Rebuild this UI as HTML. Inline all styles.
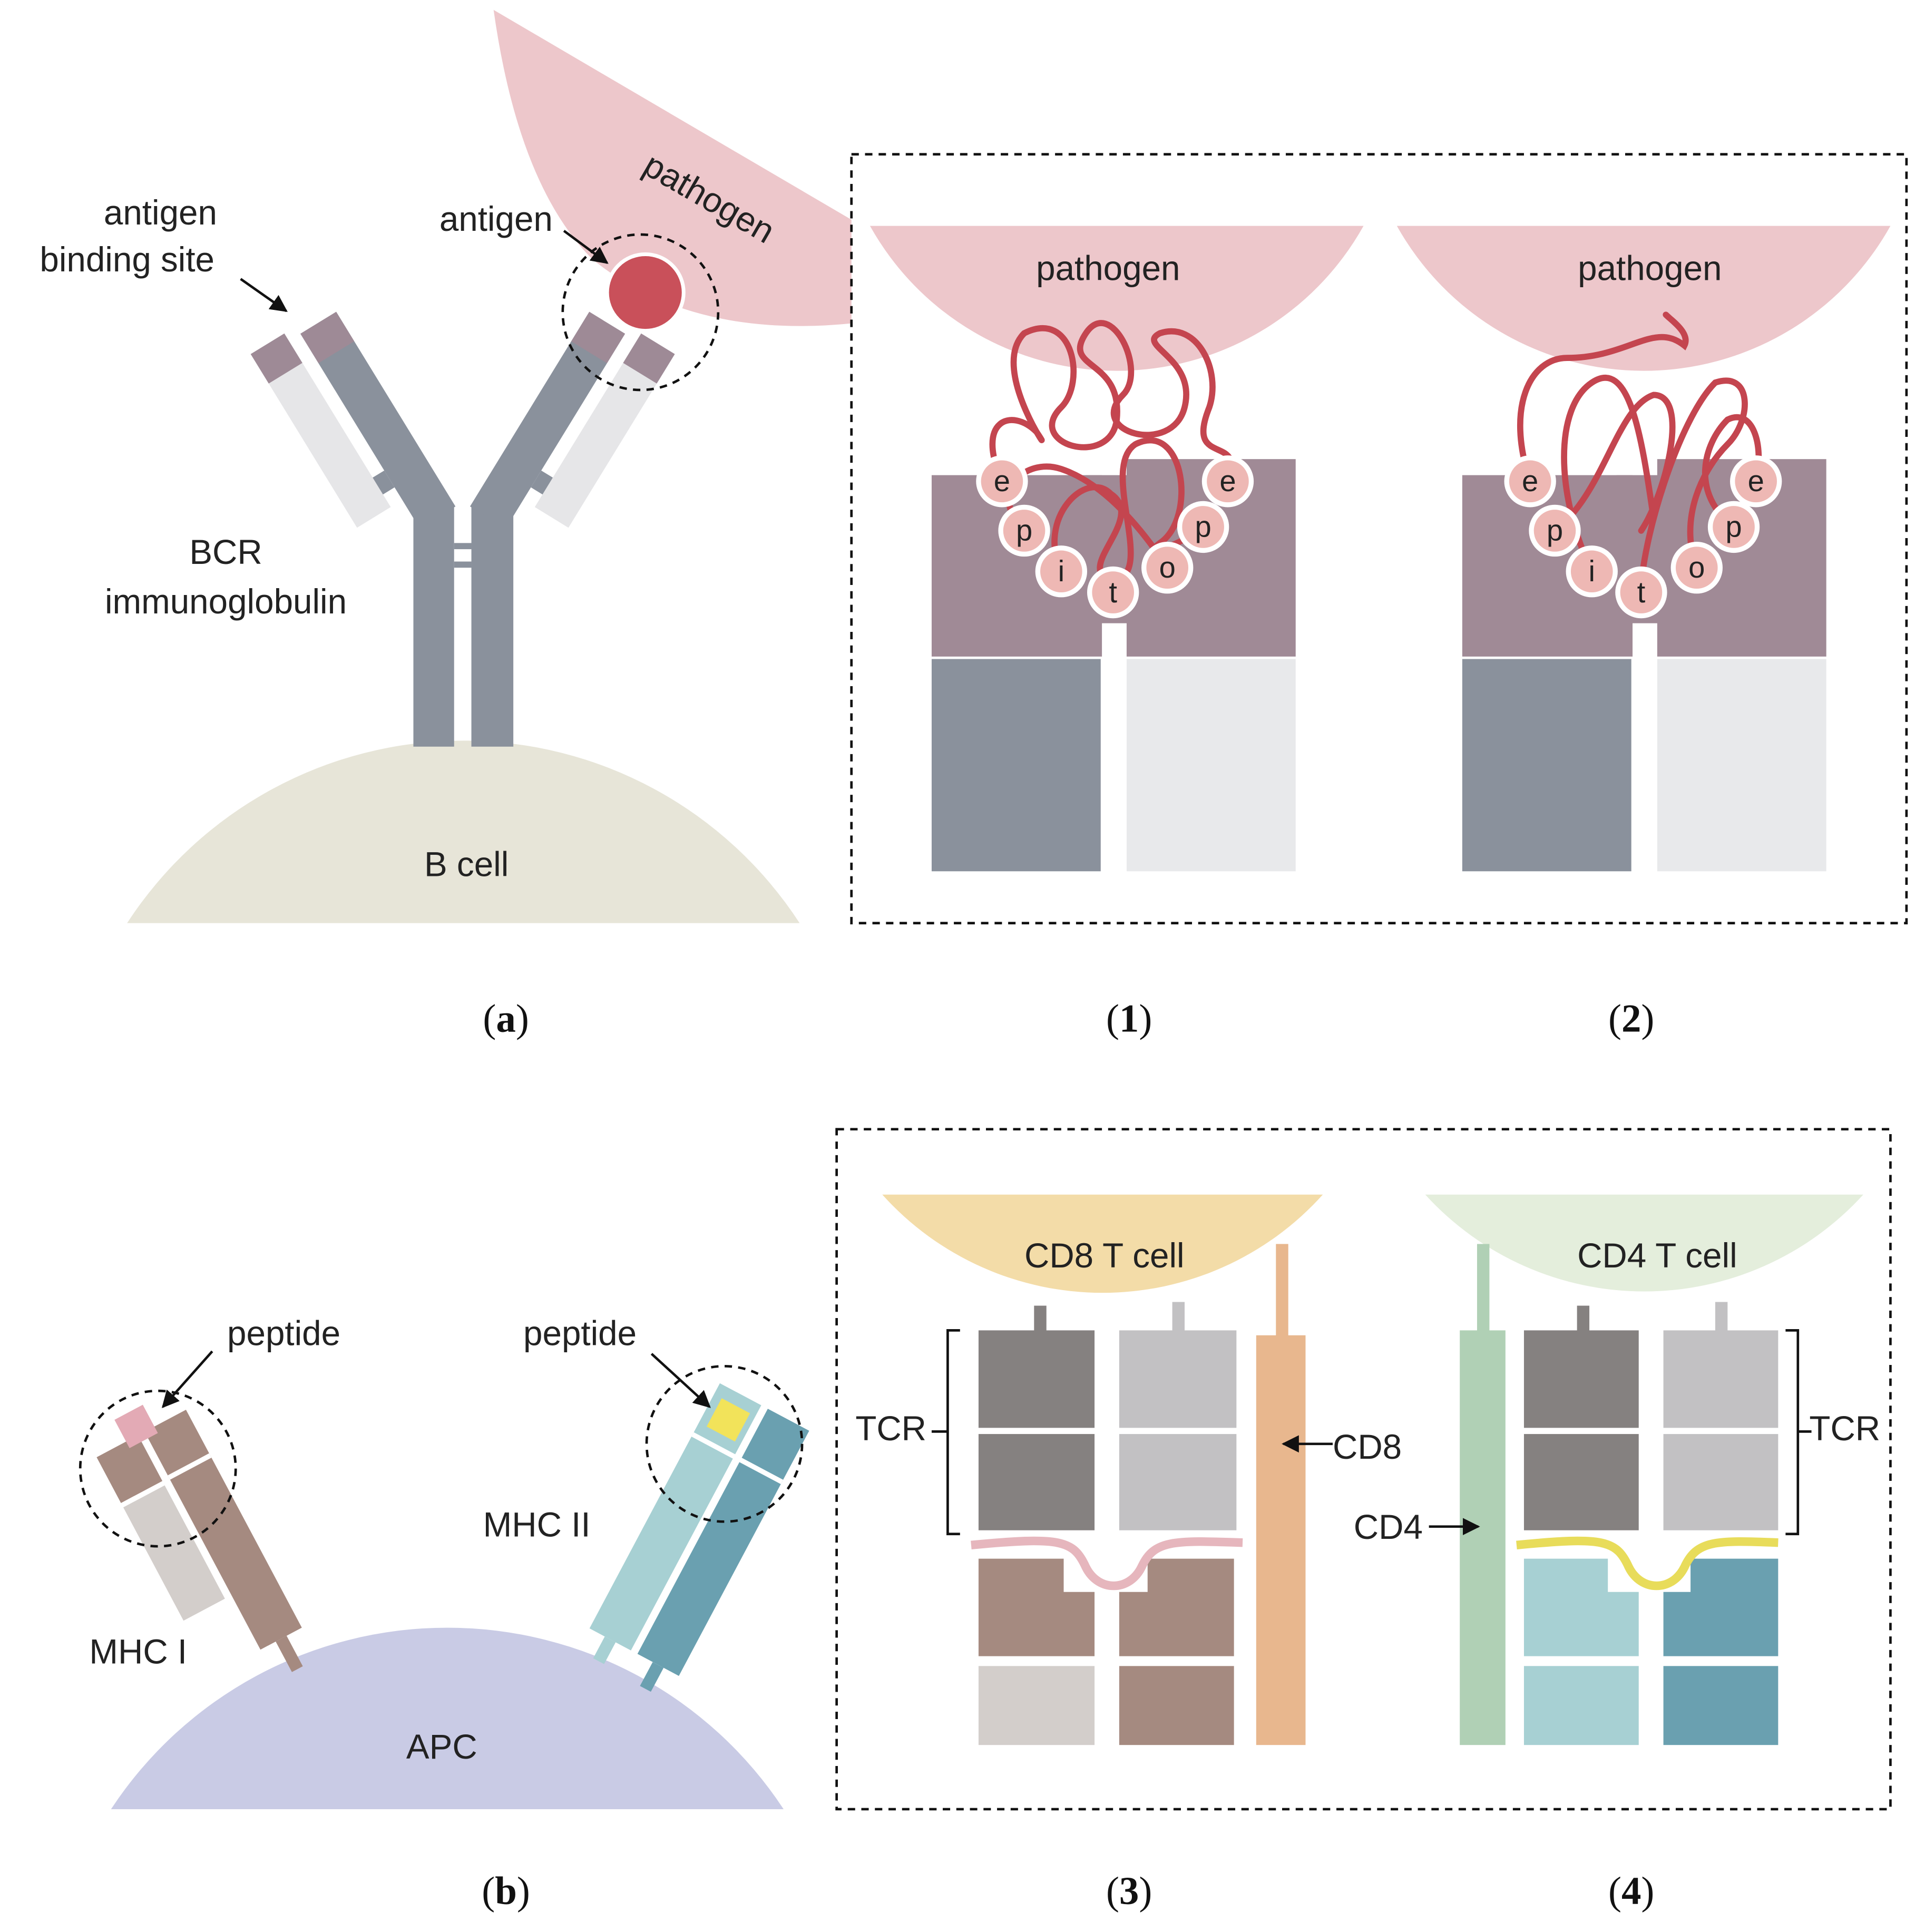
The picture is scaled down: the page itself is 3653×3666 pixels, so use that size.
<!DOCTYPE html>
<html><head><meta charset="utf-8"><style>html,body{margin:0;padding:0;background:#fff}svg{display:block}</style></head><body>
<svg width="3653" height="3666" viewBox="0 0 1560 1565.5" xmlns="http://www.w3.org/2000/svg" font-family="Liberation Sans, sans-serif">
<defs><marker id="ah" viewBox="0 0 10 10" refX="9" refY="5" markerWidth="7" markerHeight="7" orient="auto"><path d="M0 0 L10 5 L0 10 Z" fill="#111"/></marker></defs>
<rect width="1560" height="1566" fill="#fff"/>
<!-- Panel a -->
<path d="M400 8 L690 178 L690 262 Q560 275 480 210 Q420 150 400 8 Z" fill="#edc7cb"/>
<path d="M103 748 A325 325 0 0 1 648 748 Z" fill="#e7e5d8"/>
<rect x="335" y="410" width="33" height="195" fill="#8a919c"/>
<rect x="382" y="410" width="34" height="195" fill="#8a919c"/>
<rect x="368" y="440" width="14" height="5" fill="#8a919c"/><rect x="368" y="455" width="14" height="5" fill="#8a919c"/>
<g transform="rotate(-31.5 352 415)">
<rect x="335" y="235" width="34" height="185" fill="#8a919c"/>
<rect x="335" y="235" width="34" height="28" fill="#9e8a96"/>
<rect x="292" y="228" width="32" height="165" fill="#e6e6e8"/>
<rect x="292" y="228" width="32" height="28" fill="#9e8a96"/>
<rect x="324" y="365" width="11" height="16" fill="#8a919c"/>
</g>
<g transform="rotate(31.5 398 415)">
<rect x="381" y="235" width="34" height="185" fill="#8a919c"/>
<rect x="381" y="235" width="34" height="28" fill="#9e8a96"/>
<rect x="426" y="228" width="32" height="165" fill="#e6e6e8"/>
<rect x="426" y="228" width="32" height="28" fill="#9e8a96"/>
<rect x="415" y="365" width="11" height="16" fill="#8a919c"/>
</g>
<circle cx="523" cy="237" r="31" fill="#c9505a" stroke="#fff" stroke-width="3"/>
<circle cx="519" cy="253" r="63" fill="none" stroke="#111" stroke-width="2" stroke-dasharray="6 5"/>
<g font-size="28" fill="#222" text-anchor="middle">
<text x="130" y="182">antigen</text><text x="103" y="220">binding site</text>
<text x="402" y="187">antigen</text>
<text x="183" y="457">BCR</text><text x="183" y="497">immunoglobulin</text>
<text x="378" y="710">B cell</text>
<text x="575" y="170" transform="rotate(30 575 160)">pathogen</text>
</g>
<line x1="195" y1="226" x2="232" y2="252" stroke="#111" stroke-width="2" marker-end="url(#ah)"/>
<line x1="457" y1="187" x2="492" y2="213" stroke="#111" stroke-width="2" marker-end="url(#ah)"/>
<!-- Box 1 -->
<rect x="690" y="125" width="855" height="623" fill="none" stroke="#111" stroke-width="2" stroke-dasharray="6 5"/>
<g>
<path d="M705 183 A229 229 0 0 0 1105 183 Z" fill="#edc7cb"/>
<rect x="755" y="385" width="138" height="147" fill="#a08a96"/>
<rect x="913" y="372" width="137" height="160" fill="#a08a96"/>
<rect x="880" y="385" width="40" height="120" fill="#a08a96"/>
<rect x="755" y="534" width="137" height="172" fill="#8a919c"/>
<rect x="913" y="534" width="137" height="172" fill="#e8e9eb"/>
</g>
<text x="898" y="227" font-size="28" text-anchor="middle" fill="#222">pathogen</text>
<path d="M812 390 C790 340 820 330 840 350 C860 380 800 300 830 270 C870 250 880 310 860 330 C830 360 900 380 905 340 C910 290 860 300 880 270 C900 240 930 300 910 320 C880 350 950 370 960 330 C970 290 920 280 940 270 C970 260 990 300 980 330 C960 380 1010 350 995 390 M860 463 C840 420 880 380 900 400 C930 420 870 460 900 470 C940 470 890 380 920 360 C960 340 970 420 940 440 C920 455 960 440 975 427 M830 430 C800 400 830 370 860 380 C890 390 920 420 946 460" fill="none" stroke="#c4454f" stroke-width="5" stroke-linecap="round"/>
<g transform="translate(430 0)">
<path d="M702 183 A229 229 0 0 0 1102 183 Z" fill="#edc7cb"/>
<rect x="755" y="385" width="138" height="147" fill="#a08a96"/>
<rect x="913" y="372" width="137" height="160" fill="#a08a96"/>
<rect x="880" y="385" width="40" height="120" fill="#a08a96"/>
<rect x="755" y="534" width="137" height="172" fill="#8a919c"/>
<rect x="913" y="534" width="137" height="172" fill="#e8e9eb"/>
</g>
<text x="1337" y="227" font-size="28" text-anchor="middle" fill="#222">pathogen</text>
<path d="M1240 390 C1220 330 1240 290 1270 290 C1320 290 1340 260 1365 280 C1370 270 1355 260 1350 255 M1290 463 C1260 400 1260 330 1290 310 C1320 290 1330 350 1340 420 M1260 430 C1300 400 1310 330 1340 320 C1370 320 1350 400 1330 430 M1330 480 C1330 440 1360 340 1390 310 C1420 300 1420 340 1400 360 C1380 380 1360 420 1375 460 M1423 390 C1430 360 1420 330 1400 340 C1380 360 1370 400 1405 427" fill="none" stroke="#c4454f" stroke-width="5" stroke-linecap="round"/>
<g font-size="24" text-anchor="middle" fill="#222">
<g fill="#eeb8b4" stroke="#fff" stroke-width="4">
<circle cx="812" cy="390" r="19"/><circle cx="830" cy="430" r="19"/><circle cx="860" cy="463" r="19"/><circle cx="902" cy="480" r="19"/><circle cx="946" cy="460" r="19"/><circle cx="975" cy="427" r="19"/><circle cx="995" cy="390" r="19"/>
<circle cx="1240" cy="390" r="19"/><circle cx="1260" cy="430" r="19"/><circle cx="1290" cy="463" r="19"/><circle cx="1330" cy="480" r="19"/><circle cx="1375" cy="460" r="19"/><circle cx="1405" cy="427" r="19"/><circle cx="1423" cy="390" r="19"/>
</g>
<text x="812" y="398">e</text><text x="830" y="438">p</text><text x="860" y="471">i</text><text x="902" y="488">t</text><text x="946" y="468">o</text><text x="975" y="435">p</text><text x="995" y="398">e</text>
<text x="1240" y="398">e</text><text x="1260" y="438">p</text><text x="1290" y="471">i</text><text x="1330" y="488">t</text><text x="1375" y="468">o</text><text x="1405" y="435">p</text><text x="1423" y="398">e</text>
</g>
<g font-family="Liberation Serif, serif" font-size="32" text-anchor="middle" fill="#111">
<text x="410" y="836">(<tspan font-weight="bold">a</tspan>)</text>
<text x="915" y="836">(<tspan font-weight="bold">1</tspan>)</text>
<text x="1322" y="836">(<tspan font-weight="bold">2</tspan>)</text>
<text x="410" y="1543">(<tspan font-weight="bold">b</tspan>)</text>
<text x="915" y="1543">(<tspan font-weight="bold">3</tspan>)</text>
<text x="1322" y="1543">(<tspan font-weight="bold">4</tspan>)</text>
</g>
<!-- Panel b -->
<path d="M90 1466 A326 326 0 0 1 635 1466 Z" fill="#c9cbe5"/>
<g transform="rotate(-28 180 1240)">
<rect x="162" y="1140" width="38" height="200" fill="#a58a80"/>
<rect x="176" y="1340" width="10" height="28" fill="#a58a80"/>
<rect x="118" y="1140" width="38" height="42" fill="#a58a80"/>
<rect x="118" y="1186" width="38" height="104" fill="#d3cecb"/>
<rect x="162" y="1180" width="38" height="4" fill="#fff"/>
<rect x="145" y="1120" width="26" height="26" fill="#e3aab5"/>
</g>
<g transform="rotate(28 560 1250)">
<rect x="520" y="1125" width="38" height="225" fill="#a7d0d3"/>
<rect x="534" y="1350" width="10" height="20" fill="#a7d0d3"/>
<rect x="564" y="1125" width="38" height="225" fill="#6aa0b0"/>
<rect x="578" y="1350" width="10" height="22" fill="#6aa0b0"/>
<rect x="520" y="1170" width="82" height="4" fill="#fff"/>
<rect x="527" y="1135" width="26" height="26" fill="#f2e35a"/>
</g>
<circle cx="128" cy="1190" r="63" fill="none" stroke="#111" stroke-width="2" stroke-dasharray="6 5"/>
<circle cx="587" cy="1170" r="63" fill="none" stroke="#111" stroke-width="2" stroke-dasharray="6 5"/>
<line x1="172" y1="1095" x2="132" y2="1140" stroke="#111" stroke-width="2" marker-end="url(#ah)"/>
<line x1="528" y1="1097" x2="575" y2="1140" stroke="#111" stroke-width="2" marker-end="url(#ah)"/>
<!-- Box 2 -->
<rect x="678" y="915" width="854" height="551" fill="none" stroke="#111" stroke-width="2" stroke-dasharray="6 5"/>
<path d="M715 968 A240 240 0 0 0 1072 968 Z" fill="#f3dca8"/>
<rect x="838" y="1058" width="10" height="22" fill="#858180"/><rect x="950" y="1055" width="10" height="25" fill="#c2c1c3"/>
<rect x="1034" y="1008" width="10" height="75" fill="#e8b78e"/><rect x="1018" y="1082" width="40" height="332" fill="#e8b78e"/>
<rect x="793" y="1078" width="94" height="79" fill="#858180"/><rect x="793" y="1162" width="94" height="78" fill="#858180"/>
<rect x="907" y="1078" width="95" height="79" fill="#c2c1c3"/><rect x="907" y="1162" width="95" height="78" fill="#c2c1c3"/>
<path d="M793 1263 H862 V1290 H887 V1342 H793 Z" fill="#a58a80"/>
<path d="M930 1263 H1000 V1342 H907 V1290 H930 Z" fill="#a58a80"/>
<rect x="793" y="1350" width="94" height="64" fill="#d3cecb"/><rect x="907" y="1350" width="93" height="64" fill="#a58a80"/>
<path d="M787 1252 C860 1245 870 1248 880 1270 C890 1290 915 1290 925 1270 C935 1248 950 1248 1007 1250" fill="none" stroke="#e6b6bd" stroke-width="7"/>
<path d="M778 1078 H768 V1243 H778" fill="none" stroke="#111" stroke-width="2"/><line x1="755" y1="1160" x2="768" y2="1160" stroke="#111" stroke-width="2"/>
<line x1="1080" y1="1170" x2="1040" y2="1170" stroke="#111" stroke-width="2" marker-end="url(#ah)"/>
<path d="M1155 968 A240 240 0 0 0 1510 968 Z" fill="#e4eedc"/>
<rect x="1278" y="1058" width="10" height="22" fill="#858180"/><rect x="1390" y="1055" width="10" height="25" fill="#c2c1c3"/>
<rect x="1197" y="1008" width="10" height="72" fill="#b0d0b5"/><rect x="1183" y="1078" width="37" height="336" fill="#b0d0b5"/>
<rect x="1235" y="1078" width="93" height="79" fill="#858180"/><rect x="1235" y="1162" width="93" height="78" fill="#858180"/>
<rect x="1348" y="1078" width="93" height="79" fill="#c2c1c3"/><rect x="1348" y="1162" width="93" height="78" fill="#c2c1c3"/>
<path d="M1235 1263 H1303 V1290 H1328 V1342 H1235 Z" fill="#a7d0d3"/>
<path d="M1370 1263 H1441 V1342 H1348 V1290 H1370 Z" fill="#6aa0b0"/>
<rect x="1235" y="1350" width="93" height="64" fill="#a7d0d3"/><rect x="1348" y="1350" width="93" height="64" fill="#6aa0b0"/>
<path d="M1229 1252 C1300 1245 1310 1248 1320 1270 C1330 1290 1355 1290 1365 1270 C1375 1248 1390 1248 1441 1250" fill="none" stroke="#e8dc5a" stroke-width="7"/>
<path d="M1447 1078 H1457 V1243 H1447" fill="none" stroke="#111" stroke-width="2"/><line x1="1457" y1="1160" x2="1468" y2="1160" stroke="#111" stroke-width="2"/>
<line x1="1158" y1="1237" x2="1198" y2="1237" stroke="#111" stroke-width="2" marker-end="url(#ah)"/>
<g font-size="28" fill="#222" text-anchor="middle">
<text x="230" y="1090">peptide</text><text x="470" y="1090">peptide</text>
<text x="112" y="1348">MHC I</text><text x="435" y="1245">MHC II</text>
<text x="358" y="1425">APC</text>
<text x="895" y="1027">CD8 T cell</text><text x="1343" y="1027">CD4 T cell</text>
<text x="722" y="1167">TCR</text><text x="1495" y="1167">TCR</text>
<text x="1108" y="1182">CD8</text><text x="1125" y="1247">CD4</text>
</g>
</svg>
</body></html>
